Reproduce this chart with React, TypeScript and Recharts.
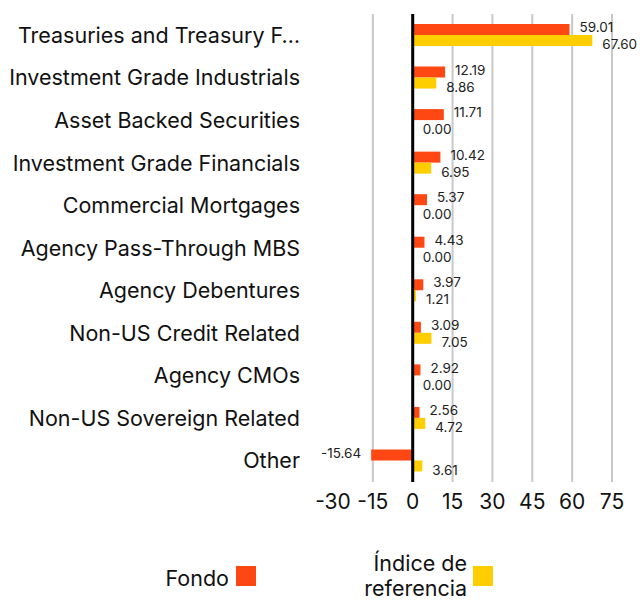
import React from "react"
import { BarChart, Bar, XAxis, YAxis, CartesianGrid, ReferenceLine, LabelList } from "recharts"

const categories = [
  "Treasuries and Treasury F…",
  "Investment Grade Industrials",
  "Asset Backed Securities",
  "Investment Grade Financials",
  "Commercial Mortgages",
  "Agency Pass-Through MBS",
  "Agency Debentures",
  "Non-US Credit Related",
  "Agency CMOs",
  "Non-US Sovereign Related",
  "Other",
]
const fondo = [59.01, 12.19, 11.71, 10.42, 5.37, 4.43, 3.97, 3.09, 2.92, 2.56, -15.64]
const indice = [67.6, 8.86, 0.0, 6.95, 0.0, 0.0, 1.21, 7.05, 0.0, 4.72, 3.61]
const xTicks = [-30, -15, 0, 15, 30, 45, 60, 75]

const FONT = "Inter, 'Noto Sans', sans-serif"
const ORANGE = "#ff4713"
const YELLOW = "#ffce00"

const data = categories.map((name, i) => ({ name, fondo: fondo[i], indice: indice[i] }))

function valueText(x: number, y: number, v: number, key: string) {
  const neg = v < 0
  return (
    <text
      key={key}
      x={neg ? x - 10 : x + 10}
      y={y}
      textAnchor={neg ? "end" : "start"}
      dominantBaseline="middle"
      fontSize={13.5}
      fontFamily={FONT}
      fill="#222"
    >
      {v.toFixed(2)}
    </text>
  )
}

// recharts drops labels of zero-width bars, so both series' labels hang off the fondo bar;
// the indice position uses the same px/unit the fondo bar was drawn with
function RowLabels(props: any) {
  const { x, y, width, height, index } = props
  const f = fondo[index]
  const ind = indice[index]
  const pxPerUnit = width / f
  const fEnd = x + width
  const iEnd = x + ind * pxPerUnit
  return (
    <g>
      {valueText(fEnd, y + height / 2 - 1, f, "f")}
      {valueText(iEnd, y + height * 1.5 + 5, ind, "i")}
    </g>
  )
}

function LegendBox() {
  const text: React.CSSProperties = { fontFamily: FONT, fontSize: 21.5, color: "#111", textAlign: "right", lineHeight: "25px" }
  return (
    <div style={{ position: "absolute", left: 0, top: 540, width: 640, height: 61 }}>
      <div style={{ ...text, position: "absolute", right: 640 - 229, top: 26 }}>Fondo</div>
      <div style={{ position: "absolute", left: 236, top: 26, width: 20, height: 20, background: ORANGE }} />
      <div style={{ ...text, position: "absolute", right: 640 - 467, top: 11 }}>
        Índice de
        <br />
        referencia
      </div>
      <div style={{ position: "absolute", left: 473, top: 26, width: 20, height: 20, background: YELLOW }} />
    </div>
  )
}

export default function App() {
  return (
    <div style={{ position: "absolute", left: 0, top: 0, width: 640, height: 601, background: "#fff" }}>
      <BarChart
        width={640}
        height={601}
        data={data}
        layout="vertical"
        margin={{ top: 14, right: 28, bottom: 89, left: 0 }}
        barGap={0}
        barSize={11}
      >
        <CartesianGrid horizontal={false} verticalValues={[-15, 0, 15, 30, 45, 60, 75]} stroke="#c8c8c8" strokeWidth={2} />
        <XAxis
          type="number"
          domain={[-30, 75]}
          ticks={xTicks}
          axisLine={false}
          tickLine={false}
          tick={{ fontSize: 21, fontFamily: FONT, fill: "#111" }}
          tickMargin={6}
          height={30}
          interval={0}
        />
        <YAxis
          type="category"
          dataKey="name"
          width={333}
          axisLine={false}
          tickLine={false}
          tickMargin={27}
          tick={{ fontSize: 21.5, fontFamily: FONT, fill: "#111" }}
          interval={0}
        />
        <ReferenceLine x={0} stroke="#000" strokeWidth={3} />
        <Bar dataKey="fondo" fill={ORANGE} isAnimationActive={false}>
          <LabelList dataKey="fondo" content={RowLabels} />
        </Bar>
        <Bar dataKey="indice" fill={YELLOW} isAnimationActive={false} />
      </BarChart>
      <LegendBox />
    </div>
  )
}
